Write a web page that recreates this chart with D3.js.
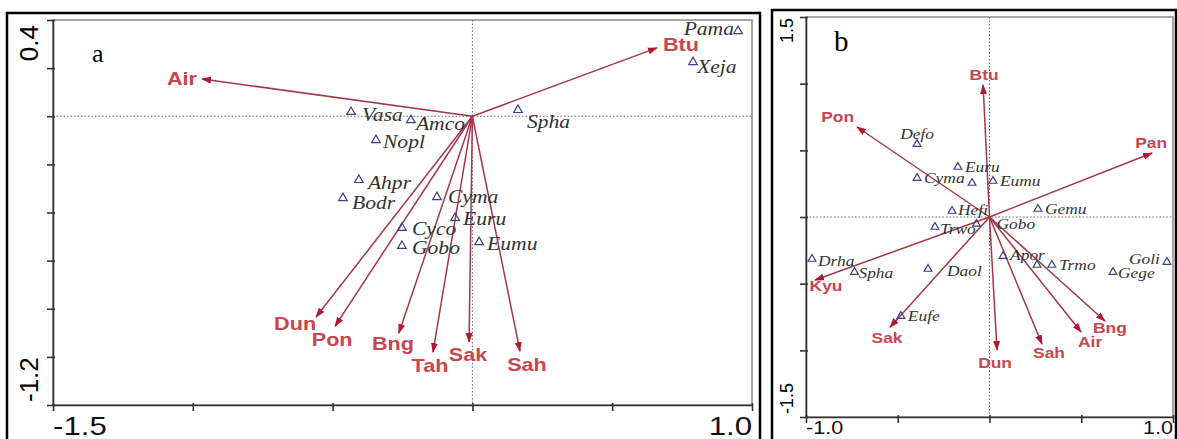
<!DOCTYPE html>
<html>
<head>
<meta charset="utf-8">
<script src="https://cdn.jsdelivr.net/npm/d3@7"></script>
<style>
  body { margin: 0; background: #fff; }
  svg { display: block; }
</style>
</head>
<body>
<svg id="chart" width="1177" height="439"></svg>
<script>
/**
 * Data: panel a (environment arrows + species scores).
 */
const aArrowNames = ['Air', 'Btu', 'Dun', 'Pon', 'Bng', 'Tah', 'Sak', 'Sah'];
const aArrowX = [-0.967, 0.660, -0.559, -0.491, -0.263, -0.141, -0.012, 0.170];
const aArrowY = [0.155, 0.284, -0.834, -0.872, -0.901, -0.980, -0.938, -0.976];

const aSpeciesNames = ['Vasa', 'Amco', 'Nopl', 'Ahpr', 'Bodr', 'Cyma', 'Euru', 'Cyco', 'Gobo', 'Eumu', 'Spha', 'Pama', 'Xeja'];
const aSpeciesX = [-0.434, -0.220, -0.345, -0.406, -0.463, -0.127, -0.062, -0.252, -0.252, 0.024, 0.163, 0.950, 0.789];
const aSpeciesY = [0.018, -0.016, -0.099, -0.265, -0.340, -0.336, -0.423, -0.464, -0.539, -0.523, 0.026, 0.354, 0.225];

const aXTicks = [-1.5, -1.0, -0.5, 0.0, 0.5, 1.0];
const aYTicks = [0.4, 0.2, 0.0, -0.2, -0.4, -0.6, -0.8, -1.0, -1.2];
const aXTickLabels = ['-1.5', '1.0'];
const aYTickLabels = ['0.4', '-1.2'];

/**
 * Data: panel b.
 */
const bArrowNames = ['Btu', 'Pon', 'Pan', 'Kyu', 'Sak', 'Dun', 'Sah', 'Air', 'Bng'];
const bArrowX = [-0.035, -0.722, 0.886, -0.951, -0.542, 0.041, 0.286, 0.499, 0.629];
const bArrowY = [0.990, 0.675, 0.480, -0.473, -0.826, -0.998, -0.953, -0.863, -0.780];

const bSpeciesNames = ['Defo', 'Euru', 'Cyma', '', 'Eumu', 'Hefi', 'Gemu', 'Trwo', 'Gobo', 'Drha', 'Spha', 'Daol', 'Apor', '', 'Trmo', 'Goli', 'Gege', 'Eufe'];
const bSpeciesX = [-0.395, -0.172, -0.395, -0.095, 0.019, -0.204, 0.264, -0.297, -0.071, -0.967, -0.736, -0.335, 0.074, 0.259, 0.340, 0.967, 0.673, -0.483];
const bSpeciesY = [0.547, 0.375, 0.292, 0.255, 0.270, 0.045, 0.060, -0.075, -0.052, -0.315, -0.413, -0.390, -0.293, -0.360, -0.360, -0.338, -0.413, -0.743];

const bXTicks = [-1.0, -0.5, 0.0, 0.5, 1.0];
const bYTicks = [1.5, 1.0, 0.5, 0.0, -0.5, -1.0, -1.5];
const bXTickLabels = ['-1.0', '1.0'];
const bYTickLabels = ['1.5', '-1.5'];

/**
 * Label placement (anchor, dx, dy relative to the mark), kept apart from the data.
 */
const aArrowLabelPos = {
    Air: ['end', -5, 0], Btu: ['start', 6, -3], Dun: ['end', 0, 7], Pon: ['middle', -3, 14],
    Bng: ['middle', -6, 11], Tah: ['middle', -3, 14], Sak: ['middle', -1, 13], Sah: ['middle', 7, 14]
};
const aSpeciesLabelPos = {
    Vasa: ['start', 11, 3], Amco: ['start', 5, 4], Nopl: ['start', 7, 2], Ahpr: ['start', 9, 3],
    Bodr: ['start', 9, 5], Cyma: ['start', 11, 0], Euru: ['start', 8, 1], Cyco: ['start', 10, 1],
    Gobo: ['start', 10, 2], Eumu: ['start', 8, 2], Spha: ['start', 9, 12], Pama: ['end', -4, -2],
    Xeja: ['start', 4, 5]
};
const bArrowLabelPos = {
    Btu: ['middle', 1, -10], Pon: ['end', -3, -10], Pan: ['middle', -1, -10], Kyu: ['middle', 11, 6],
    Sak: ['middle', -3, 11], Dun: ['middle', -2, 13], Sah: ['middle', 7, 9], Air: ['middle', 9, 10],
    Bng: ['middle', 5, 7]
};
const bSpeciesLabelPos = {
    Defo: ['middle', 0, -10], Goli: ['end', -7, -3], Gobo: ['start', 20, 0], Daol: ['start', 19, 2],
    Hefi: ['start', 6, -1], Trwo: ['start', 5, 2], Drha: ['start', 6, 2], Spha: ['start', 4, 1],
    Apor: ['start', 7, -1], Gege: ['start', 5, 1]
};

/**
 * Styles.
 */
const arrowColor = '#a3384a',
    headColor = '#b3162f',
    arrowLabelColor = '#c9454f',
    triColor = '#3d3d85',
    speciesColor = '#333',
    stretch = 1.2; // reference text is a little wider than it is tall

const svg = d3.select('#chart');

// Arrow head marker
svg.append('defs').append('marker')
    .attr('id', 'head')
    .attr('markerUnits', 'userSpaceOnUse')
    .attr('viewBox', '0 -4 10 8')
    .attr('refX', 9).attr('refY', 0)
    .attr('markerWidth', 10).attr('markerHeight', 8)
    .attr('orient', 'auto')
    .append('path')
        .attr('d', 'M0,-3.5L10,0L0,3.5Z')
        .attr('fill', headColor);

function label(g, x, y, str, anchor, style) {
    return g.append('text')
        .attr('transform', `translate(${x},${y}) scale(${stretch},1)`)
        .attr('text-anchor', anchor)
        .attr('dominant-baseline', 'central')
        .style('font-family', style.family)
        .style('font-size', style.size + 'px')
        .style('font-weight', style.weight || 'normal')
        .style('font-style', style.italic ? 'italic' : 'normal')
        .attr('fill', style.color)
        .text(str);
}

function panel(cfg) {
    const x = d3.scaleLinear().domain(cfg.xDomain).range([cfg.left, cfg.right]);
    const y = d3.scaleLinear().domain(cfg.yDomain).range([cfg.bottom, cfg.top]);
    const g = svg.append('g');

    // Outer black frame
    g.append('rect')
        .attr('x', cfg.frame[0]).attr('y', cfg.frame[1])
        .attr('width', cfg.frame[2]).attr('height', cfg.frame[3])
        .attr('fill', 'none').attr('stroke', '#000').attr('stroke-width', 2.5);

    // Plot frame
    g.append('rect')
        .attr('x', cfg.left).attr('y', cfg.top)
        .attr('width', cfg.right - cfg.left).attr('height', cfg.bottom - cfg.top)
        .attr('fill', 'none').attr('stroke', '#8a8a8a').attr('stroke-width', 1.5);

    // Zero lines
    g.append('line')
        .attr('x1', cfg.left).attr('x2', cfg.right)
        .attr('y1', y(0)).attr('y2', y(0));
    g.append('line')
        .attr('x1', x(0)).attr('x2', x(0))
        .attr('y1', cfg.top).attr('y2', cfg.bottom);
    g.selectAll('line')
        .attr('stroke', '#666').attr('stroke-width', 1).attr('stroke-dasharray', '1.5,2');

    // Axes: ticks cross the axis line
    const yAx = g.append('g')
        .attr('transform', `translate(${cfg.left},0)`)
        .call(d3.axisLeft(y).tickValues(cfg.yTicks).tickSize(6).tickSizeOuter(0).tickFormat(''));
    yAx.selectAll('.tick line').attr('x1', 2);
    const xAx = g.append('g')
        .attr('transform', `translate(0,${cfg.bottom})`)
        .call(d3.axisBottom(x).tickValues(cfg.xTicks).tickSize(6).tickSizeOuter(0).tickFormat(''));
    xAx.selectAll('.tick line').attr('y1', -2);
    g.selectAll('.domain, .tick line').attr('stroke', '#333').attr('stroke-width', 1.6);

    // Axis end labels
    const axFont = { family: 'Liberation Sans, Arial, sans-serif', size: cfg.axisSize, color: '#111' };
    g.append('text')
        .attr('transform', `translate(${cfg.left - cfg.yLabelGap},${y(cfg.yDomain[1]) + cfg.yLabelInset}) rotate(-90)`)
        .attr('text-anchor', 'end')
        .style('font-family', axFont.family).style('font-size', axFont.size + 'px')
        .text(cfg.yLabels[0]);
    g.append('text')
        .attr('transform', `translate(${cfg.left - cfg.yLabelGap},${y(cfg.yDomain[0]) - 3}) rotate(-90)`)
        .attr('text-anchor', 'start')
        .style('font-family', axFont.family).style('font-size', axFont.size + 'px')
        .text(cfg.yLabels[1]);
    label(g, x(cfg.xDomain[0]), cfg.xLabelY, cfg.xLabels[0], 'start', axFont).attr('dominant-baseline', 'auto');
    label(g, x(cfg.xDomain[1]), cfg.xLabelY, cfg.xLabels[1], 'end', axFont).attr('dominant-baseline', 'auto');

    // Panel letter
    g.append('text')
        .attr('x', cfg.letterPos[0]).attr('y', cfg.letterPos[1])
        .style('font-family', 'Liberation Serif, Times New Roman, serif')
        .style('font-size', cfg.letterSize + 'px')
        .text(cfg.letter);

    // Environment arrows
    const arrows = cfg.arrowNames.map((n, i) => ({ name: n, x: cfg.arrowX[i], y: cfg.arrowY[i] }));
    g.append('g').selectAll('line')
        .data(arrows)
        .join('line')
            .attr('x1', x(0)).attr('y1', y(0))
            .attr('x2', d => x(d.x)).attr('y2', d => y(d.y))
            .attr('stroke', arrowColor).attr('stroke-width', 1.5)
            .attr('marker-end', 'url(#head)');

    // Species triangles
    const species = cfg.speciesNames.map((n, i) => ({ name: n, x: cfg.speciesX[i], y: cfg.speciesY[i] }));
    g.append('g').selectAll('path')
        .data(species)
        .join('path')
            .attr('transform', d => `translate(${x(d.x)},${y(d.y)})`)
            .attr('d', d3.symbol(d3.symbolTriangle, cfg.triSize))
            .attr('fill', 'none').attr('stroke', triColor).attr('stroke-width', 1.2);

    // Species labels
    const spFont = { family: 'Liberation Serif, Times New Roman, serif', size: cfg.speciesSize, italic: true, color: speciesColor };
    species.filter(d => d.name).forEach(d => {
        const p = cfg.speciesPos[d.name] || ['start', 7, 0];
        label(g, x(d.x) + p[1], y(d.y) + p[2], d.name, p[0], spFont);
    });

    // Arrow labels
    const arFont = { family: 'Liberation Sans, Arial, sans-serif', size: cfg.arrowSize, weight: 'bold', color: arrowLabelColor };
    arrows.forEach(d => {
        const p = cfg.arrowPos[d.name];
        label(g, x(d.x) + p[1], y(d.y) + p[2], d.name, p[0], arFont);
    });
}

panel({
    xDomain: [-1.5, 1.0], yDomain: [-1.2, 0.4],
    left: 53, right: 752, top: 20, bottom: 405,
    frame: [7, 13, 753, 440],
    xTicks: aXTicks, yTicks: aYTicks, xLabels: aXTickLabels, yLabels: aYTickLabels,
    axisSize: 26, yLabelGap: 15, yLabelInset: 5, xLabelY: 435,
    letter: 'a', letterPos: [92, 62], letterSize: 26,
    arrowNames: aArrowNames, arrowX: aArrowX, arrowY: aArrowY, arrowPos: aArrowLabelPos, arrowSize: 18,
    speciesNames: aSpeciesNames, speciesX: aSpeciesX, speciesY: aSpeciesY, speciesPos: aSpeciesLabelPos,
    speciesSize: 18, triSize: 32
});

panel({
    xDomain: [-1.0, 1.0], yDomain: [-1.5, 1.5],
    left: 806, right: 1173, top: 17, bottom: 417,
    frame: [772, 10, 404, 440],
    xTicks: bXTicks, yTicks: bYTicks, xLabels: bXTickLabels, yLabels: bYTickLabels,
    axisSize: 18, yLabelGap: 13, yLabelInset: 1, xLabelY: 434,
    letter: 'b', letterPos: [834, 51], letterSize: 29,
    arrowNames: bArrowNames, arrowX: bArrowX, arrowY: bArrowY, arrowPos: bArrowLabelPos, arrowSize: 14.5,
    speciesNames: bSpeciesNames, speciesX: bSpeciesX, speciesY: bSpeciesY, speciesPos: bSpeciesLabelPos,
    speciesSize: 14.5, triSize: 26
});
</script>
</body>
</html>
